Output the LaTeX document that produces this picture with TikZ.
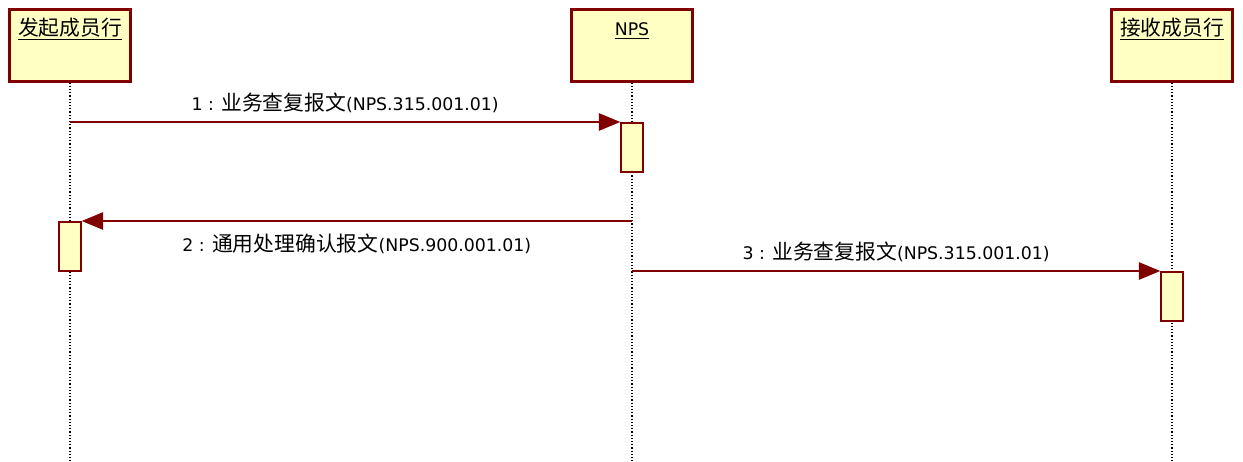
\documentclass[tikz,border=0pt]{standalone}
\usepackage{fontspec}
\setmainfont{DejaVu Sans}
\newfontfamily\cjk[Scale=1.2]{Noto Sans CJK SC}
\usepackage{xcolor}
\usepackage{tikz}
\usetikzlibrary{positioning, arrows.meta, calc}
\definecolor{umlmaroon}{HTML}{800000}
\definecolor{umlyellow}{HTML}{FFFFC4}

\begin{document}
\begin{tikzpicture}[x=0.75pt, y=-0.75pt, font=\fontsize{13}{15}\selectfont,
    actor/.style={draw=umlmaroon, fill=umlyellow, line width=1.9pt, anchor=north,
                  minimum width=91pt, inner xsep=4pt, inner ysep=4pt, text height=16pt, text depth=30pt},
    activation/.style={draw=umlmaroon, fill=umlyellow, line width=1.6pt, anchor=north,
                  inner sep=0pt, minimum width=16pt, minimum height=36.5pt},
    lifeline/.style={line width=1pt, dash pattern=on 1pt off 1.4pt},
    msg/.style={draw=umlmaroon, line width=1.1pt, -{Triangle[length=16pt, width=13pt]}}]
    \useasboundingbox (0,0) rectangle (1243,461);
    \coordinate (bottom) at (0,461);

    \node[actor] (sender) at (70,8) {\underline{\cjk 发起成员行}};
    \node[actor] (nps) at (632,8) {\underline{NPS}};
    \node[actor] (receiver) at (1172,8) {\underline{\cjk 接收成员行}};

    \draw[lifeline] (sender.south) -- (sender.south |- bottom);
    \draw[lifeline] (nps.south) -- (nps.south |- bottom);
    \draw[lifeline] (receiver.south) -- (receiver.south |- bottom);

    \node[activation] (actnps) at (632,122) {};
    \node[activation] (actsender) at (70,221) {};
    \node[activation] (actreceiver) at (1172,271) {};

    \draw[msg] (sender.south |- actnps.north) -- (actnps.north west)
      node[midway, above=3pt] {1 : {\cjk 业务查复报文}(NPS.315.001.01)};
    \draw[msg] (nps.south |- actsender.north) -- (actsender.north east)
      node[midway, below=6pt] {2 : {\cjk 通用处理确认报文}(NPS.900.001.01)};
    \draw[msg] (nps.south |- actreceiver.north) -- (actreceiver.north west)
      node[midway, above=3pt] {3 : {\cjk 业务查复报文}(NPS.315.001.01)};
  \end{tikzpicture}
\end{document}
